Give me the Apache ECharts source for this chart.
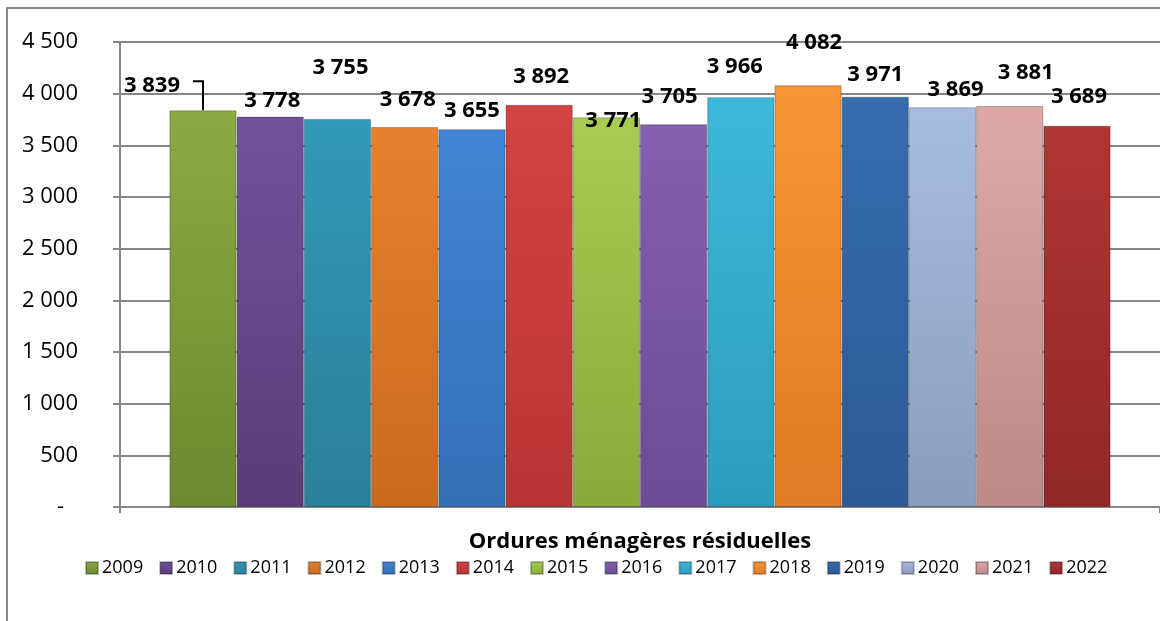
<!DOCTYPE html>
<html>
<head>
<meta charset="utf-8">
<script src="https://cdn.jsdelivr.net/npm/echarts@6/dist/echarts.min.js"></script>
<style>
html,body{margin:0;padding:0;background:#fff;}
#c{width:1160px;height:621px;}
</style>
</head>
<body>
<div id="c"></div>
<script>
// ---- data ----
const category = ['Ordures ménagères résiduelles'];
const years = ['2009','2010','2011','2012','2013','2014','2015','2016','2017','2018','2019','2020','2021','2022'];
const values = [3839, 3778, 3755, 3678, 3655, 3892, 3771, 3705, 3966, 4082, 3971, 3869, 3881, 3689];
const yTicks = [0, 500, 1000, 1500, 2000, 2500, 3000, 3500, 4000, 4500];

// ---- style ----
const topColors = ['#8CA942','#70529A','#3399B6','#E8802E','#4284D4','#D44242','#A8CC52','#8460B0','#3EB8DA','#FA9636','#366CAE','#A8BCE2','#DEA8A8','#B23434'];
const botColors = ['#6C8A30','#5A3C78','#2A8098','#C86A20','#3470B8','#B83434','#88AA3C','#6C4C94','#2C9CBC','#E07A24','#2C5A94','#8C9CBC','#BC8888','#902828'];
const labelOffsets = [[-51,-9],[2,0],[3,-35],[3,-11],[0,-3],[2,-12],[7,19],[-4,-11],[-6,-14],[6,-26],[0,-6],[13,-1],[16,-17],[2,-13]];

function fmt(v){ return String(v).replace(/\B(?=(\d{3})+(?!\d))/g, ' '); }

const chart = echarts.init(document.getElementById('c'), null, {renderer:'canvas'});

const series = years.map((y, i) => ({
  name: y,
  type: 'bar',
  data: [values[i]],
  barGap: '0%',
  barCategoryGap: '9.5%',
  itemStyle: {
    color: new echarts.graphic.LinearGradient(0,0,0,1,[
      {offset:0, color: topColors[i]},
      {offset:1, color: botColors[i]}
    ]),
    borderColor: 'rgba(0,0,0,0.25)',
    borderWidth: 1
  },
  label: {
    show: true,
    position: 'top',
    distance: 5,
    offset: labelOffsets[i],
    formatter: p => fmt(p.value),
    fontFamily: 'Open Sans',
    fontWeight: 'bold',
    fontSize: 22,
    lineHeight: 22,
    color: '#000'
  },
  emphasis: {disabled: true}
}));

chart.setOption({
  animation: false,
  grid: {left: 120, right: 0, top: 42, bottom: 114},
  legend: {
    data: years.map(y => ({name: y, icon: 'rect'})),
    left: 80, top: 554,
    itemWidth: 12, itemHeight: 12, itemGap: 16,
    textStyle: {fontFamily: 'Open Sans', fontSize: 18, color: '#000', padding:[0,0,0,-1]}
  },
  xAxis: {
    type: 'category',
    data: category,
    axisLine: {show: true, lineStyle: {color: '#868686', width: 2}},
    axisTick: {show: true, length: 6, lineStyle: {color: '#868686', width: 2}},
    axisLabel: {fontFamily: 'Open Sans', fontWeight: 'bold', fontSize: 22, color: '#000', margin: 24}
  },
  yAxis: {
    type: 'value',
    min: 0, max: 4500, interval: 500,
    axisLine: {show: true, lineStyle: {color: '#868686', width: 2}},
    axisTick: {show: true, length: 7, lineStyle: {color: '#868686', width: 2}},
    splitLine: {show: true, lineStyle: {color: '#868686', width: 2}},
    axisLabel: {
      fontFamily: 'Open Sans', fontSize: 22, color: '#000', margin: 42,
      customValues: yTicks,
      formatter: v => v === 0 ? '{d|-}' : fmt(v),
      rich: {d: {fontFamily: 'Open Sans', fontSize: 22, color: '#000', padding: [0, 14, 0, 0]}}
    }
  },
  series: series
});

// leader line for 2009 label, from library layout
const lay = chart.getModel().getSeriesByIndex(0).getData().getItemLayout(0);
const cx = lay.x + lay.width / 2;
const topY = lay.y + lay.height;
chart.setOption({
  graphic: [
    {type: 'rect', shape: {x: 7, y: 8, width: 1300, height: 800}, style: {fill: 'none', stroke: '#8a8a8a', lineWidth: 2}, silent: true},
    {type: 'polyline', shape: {points: [[cx - 10, topY - 29], [cx, topY - 29], [cx, topY]]}, style: {stroke: '#000', lineWidth: 2, fill: 'none'}, silent: true}
  ]
});
</script>
</body>
</html>
